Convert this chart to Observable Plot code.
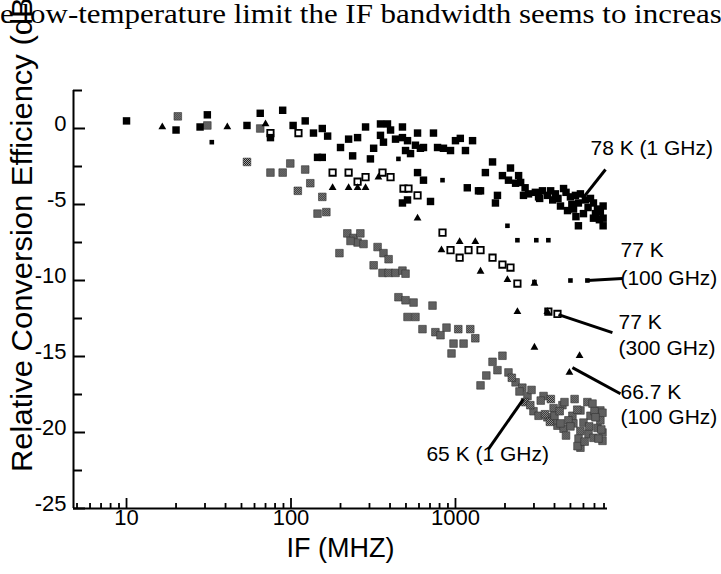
<!DOCTYPE html>
<html><head><meta charset="utf-8">
<script src="https://cdn.jsdelivr.net/npm/d3@7"></script>
<script src="https://cdn.jsdelivr.net/npm/@observablehq/plot@0.6"></script>
<style>
html,body{margin:0;padding:0;background:#fff;width:721px;height:574px;overflow:hidden;}
#wrap{position:relative;width:721px;height:574px;overflow:hidden;}
#topline{position:absolute;left:0;top:-2px;font-family:"Liberation Serif","Times New Roman",serif;font-size:28px;white-space:nowrap;line-height:32px;color:#000;transform:scaleX(1.105);transform-origin:0 0;}
#chart{position:absolute;left:0;top:0;}
</style></head><body>
<svg width="0" height="0" style="position:absolute"><defs>
<pattern id="stipple" width="2" height="2" patternUnits="userSpaceOnUse">
<rect width="2" height="2" fill="#b0b0b0"/><rect width="1" height="1" fill="#111"/><rect x="1" y="1" width="1" height="1" fill="#111"/>
</pattern></defs></svg>
<div id="wrap">
<div id="topline">e low-temperature limit the IF bandwidth seems to increas</div>
<div id="chart"></div>
</div>
<script>
// ---- data (IF in MHz, relative conversion efficiency in dB) ----
// 78 K (1 GHz): filled squares
const a78x = [10,20,31,28,54,65,89,75,103,122,137,155,167,200,224,254,284,237,304,318,350,386,350,365,403,432,476,511,476,497,533,571,612,639,588,735,778,845,933,1000,1070,1150,1270,145,155,588,639,1180,1380,476,511,705,1680,2160,1520,1930,2100,2420,2490,2320,1420,1800,1750,2780,3060,3380,3620,4050,4540,5000,5360,5750,4350,4800,5220,5590,6170,6620,6900,7300,7600,7900,7900,5590,6900,2590,3790,3200,2650,3250,3900,4200,4700,5100,6400,7100,7500,7900,6000,5400];
const a78y = [0.5,-0.1,0.9,0.1,0.2,1.0,1.2,-0.6,0.2,0.5,-0.3,0,-0.5,-1.25,-0.7,-0.6,0.1,-1.8,-2.0,-1.3,0.3,0.3,-0.45,-0.9,-0.1,-0.7,-0.6,-0.8,0.1,-1.45,-1.65,-1.1,-1.3,-1.25,-0.3,-0.3,-1.25,-1.3,-1.45,-0.8,-0.65,-1.45,-0.8,-1.9,-1.9,-2.9,-3.4,-3.9,-4.1,-4.9,-4.7,-4.8,-2.2,-2.6,-2.9,-3.1,-3.4,-3.1,-3.55,-3.6,-4.1,-4.4,-4.9,-4.3,-4.2,-4.1,-4.4,-4.3,-3.95,-4.5,-4.4,-4.3,-5.1,-5.4,-5.3,-4.9,-4.7,-4.6,-4.9,-5.3,-5.5,-5.9,-6.4,-6.4,-5.9,-4.4,-4.1,-4.5,-3.9,-4.6,-4.7,-4.6,-4.2,-5.0,-5.2,-5.6,-6.0,-5.1,-5.6,-5.8];
// 77 K (100 GHz): small filled squares
const b77x = [33,450,834,2070,2380,3100,3670,3020,5000,6340];
const b77y = [-0.9,-2.0,-3.4,-6.4,-7.35,-7.35,-7.35,-10.1,-10.0,-10.0];
// 77 K (300 GHz): open squares
const c77x = [75,111,179,224,254,284,360,403,483,518,588,834,933,1060,1200,1420,1680,1930,2160,2380,3670,4170];
const c77y = [-0.3,-0.3,-2.9,-2.9,-3.5,-3.2,-2.9,-3.2,-3.95,-3.95,-4.4,-6.85,-8.0,-8.5,-8.0,-8.0,-8.5,-8.95,-9.15,-10.2,-12.05,-12.2];
// 66.7 K (100 GHz): filled triangles
const d67x = [16.5,41,70,179,224,254,284,340,588,822,1060,1320,1420,2070,3020,2380,3620,3020,5680,4930];
const d67y = [0.1,0.1,0.3,-3.9,-3.9,-3.9,-3.9,-3.2,-5.9,-8.0,-7.45,-7.45,-9.4,-9.95,-10.2,-12.05,-12.05,-14.4,-14.95,-16.05];
// 65 K (1 GHz): grey stippled symbols
const e65x = [20.5,31,65,54,75,89,99,122,131,110,155,145,164,220,240,264,254,276,230,197,336,365,392,318,360,392,432,476,497,450,497,556,511,571,725,630,755,811,882,1040,1230,1320,973,1120,946,1930,1680,1800,2100,1540,1420,2320,2550,2740,2980,3430,3950,3620,4470,4170,4540,5140,5750,6340,6620,5750,6440,7300,7600,7830,5750,6900,7600,7830,3950,5210,4860,5600,5520,6810,7830,6000,4350,2200,2450,2650,2850,3200,3300,3500,3750,4000,4300,4600,4700,5000,5300,5500,6100,6500,7000,7100,7400,7700,3800,2900];
const e65y = [0.8,0.2,0,-2.2,-2.9,-2.9,-2.3,-2.7,-3.6,-4.1,-4.5,-5.6,-5.5,-6.9,-7.2,-6.9,-7.5,-7.6,-7.4,-8.2,-7.8,-8.2,-8.6,-9.0,-9.5,-9.5,-9.5,-9.35,-9.55,-11.1,-11.3,-11.45,-12.4,-12.4,-11.65,-13.2,-13.4,-13.6,-13.1,-13.2,-13.2,-13.8,-14.15,-14.15,-14.8,-14.95,-15.35,-15.9,-16.05,-16.25,-16.9,-16.7,-17.05,-17.6,-18.6,-17.6,-18.4,-19.0,-18.2,-19.55,-19.75,-18.9,-18.55,-18.0,-18.9,-19.9,-20.1,-19.7,-19.2,-20.0,-21.0,-20.35,-18.55,-20.55,-19.2,-19.4,-19.2,-20.4,-20.9,-18.1,-18.7,-19.35,-19.4,-16.4,-17.3,-18.0,-18.2,-18.9,-17.9,-18.8,-19.3,-18.9,-18.6,-18.0,-20.2,-19.6,-17.8,-18.5,-20.6,-19.6,-18.6,-19.0,-20.4,-19.8,-17.8,-17.2];

// annotations (labels right of the curves, and the centred 65 K label)
const annoText = ["78 K (1 GHz)","77 K","(100 GHz)","77 K","(300 GHz)","66.7 K","(100 GHz)"];
const annoX = [6620,10070,10070,9800,9800,10070,10070];
const annoY = [-1.32,-8.03,-9.87,-12.77,-14.48,-17.38,-19.02];
const anno65Text = ["65 K (1 GHz)"];
const anno65X = [1570];
const anno65Y = [-21.4];
const leadX1 = [5920,6340,4230,5140,2590];
const leadY1 = [-4.61,-10.0,-12.24,-15.73,-17.8];
const leadX2 = [8170,10350,9000,10070,1590];
const leadY2 = [-2.70,-9.87,-13.43,-17.45,-21.07];

// axes
const xMajor = [10,100,1000];
const xMajorLabels = ["10","100","1000"];
const xMinor = [5,6,7,8,9,20,30,40,50,60,70,80,90,200,300,400,500,600,700,800,900,2000,3000,4000,5000,6000,7000,8000];
const yMajor = [0,-5,-10,-15,-20,-25];
const yMajorLabels = ["0","-5","-10","-15","-20","-25"];
const yMinor = [2.5,-2.5,-7.5,-12.5,-17.5,-22.5];
const xDomain = [4.76, 8400];
const yDomain = [-25, 2.5];
const xTitle = "IF (MHZ)";
const yTitle = "Relative Conversion Efficiency (dB)";

const zip = (xs, ys) => xs.map((x, i) => ({x, y: ys[i]}));
const A = zip(a78x, a78y), B = zip(b77x, b77y), C = zip(c77x, c77y), D = zip(d67x, d67y), E = zip(e65x, e65y);
const annos = annoText.map((t, i) => ({t, x: annoX[i], y: annoY[i]}));
const annos65 = anno65Text.map((t, i) => ({t, x: anno65X[i], y: anno65Y[i]}));
const leads = leadX1.map((x1, i) => ({x1, y1: leadY1[i], x2: leadX2[i], y2: leadY2[i]}));

const FONT = "'Liberation Sans', Arial, Helvetica, sans-serif";
const chart = Plot.plot({
  width: 721, height: 574,
  marginLeft: 73, marginRight: 114, marginTop: 90, marginBottom: 66,
  style: {background: "transparent", fontFamily: FONT, color: "#000", overflow: "visible"},
  x: {type: "log", domain: xDomain, axis: null},
  y: {domain: yDomain, axis: null},
  marks: [
    Plot.ruleX([xDomain[0]], {strokeWidth: 2}),
    Plot.ruleY([yDomain[0]], {strokeWidth: 2}),
    Plot.tickY(yMajor, {y: d => d, insetRight: 522, strokeWidth: 2}),
    Plot.tickY(yMinor, {y: d => d, insetRight: 525, strokeWidth: 2}),
    Plot.tickX(xMajor, {x: d => d, insetTop: 408, strokeWidth: 1.8}),
    Plot.tickX(xMinor, {x: d => d, insetTop: 413, strokeWidth: 1.8}),
    Plot.text(yMajor, {y: d => d, text: (d, i) => yMajorLabels[i], frameAnchor: "left", textAnchor: "end", dx: -7, dy: -5, fontSize: 22}),
    Plot.text(xMajor, {x: d => d, text: (d, i) => xMajorLabels[i], frameAnchor: "bottom", lineAnchor: "top", dy: 1, fontSize: 22}),
    Plot.text([xTitle], {text: d => d, frameAnchor: "bottom", textAnchor: "middle", dy: 48, fontSize: 27}),
    Plot.text([yTitle], {text: d => d, frameAnchor: "left", textAnchor: "middle", rotate: -90, dx: -51, dy: -70, fontSize: 30, className: "ytitle"}),
    // data
    Plot.dot(E, {x: "x", y: "y", symbol: "square", r: 4.3, fill: "url(#stipple)", stroke: "#333", strokeWidth: 0.6}),
    Plot.dot(C, {x: "x", y: "y", symbol: "square", r: 3.6, fill: "white", stroke: "black", strokeWidth: 1.8}),
    Plot.dot(A, {x: "x", y: "y", symbol: "square", r: 4.2, fill: "black"}),
    Plot.dot(B, {x: "x", y: "y", symbol: "square", r: 2.6, fill: "black"}),
    Plot.dot(D, {x: "x", y: "y", symbol: "triangle", r: 2.9, fill: "black"}),
    // annotations
    Plot.link(leads, {x1: "x1", y1: "y1", x2: "x2", y2: "y2", strokeWidth: 3, stroke: "black"}),
    Plot.text(annos, {x: "x", y: "y", text: "t", textAnchor: "start", fontSize: 21}),
    Plot.text(annos65, {x: "x", y: "y", text: "t", textAnchor: "middle", fontSize: 21})
  ]
});
// stretch the rotated y title along its baseline, as in the scanned figure
d3.select(chart).selectAll(".ytitle text")
  .attr("textLength", 485).attr("lengthAdjust", "spacingAndGlyphs");
document.getElementById("chart").appendChild(chart);
</script>
</body></html>
